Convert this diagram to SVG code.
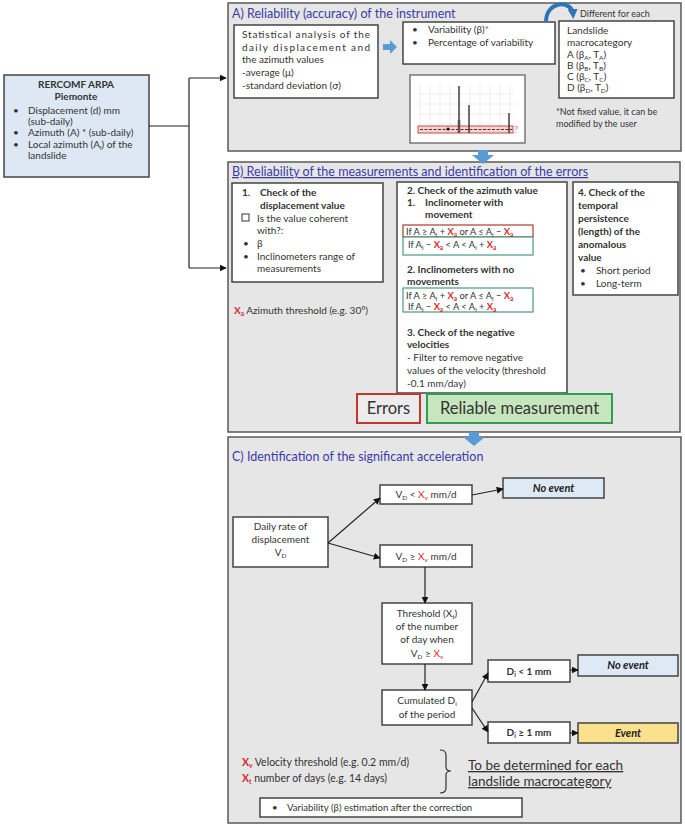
<svg xmlns="http://www.w3.org/2000/svg" width="685" height="826" viewBox="0 0 685 826">
<defs>
<marker id="ah" viewBox="0 0 10 10" refX="9" refY="5" markerWidth="7" markerHeight="7" orient="auto" markerUnits="userSpaceOnUse"><path d="M0,0 L10,5 L0,10 z" fill="#111"/></marker>
<marker id="bh" viewBox="0 0 10 10" refX="5" refY="5" markerWidth="10" markerHeight="10" orient="auto" markerUnits="userSpaceOnUse"><path d="M0,0 L10,5 L0,10 z" fill="#2e75b6"/></marker>
<style>
text{font-family:Lato,"Open Sans","Liberation Sans",sans-serif;fill:#333;font-size:10px}
.sec{fill:#e7e6e6;stroke:#5a5a5a;stroke-width:1.5}
.box{fill:#fff;stroke:#444;stroke-width:1.5}
.ttl{fill:#3b3ba8;font-size:12.5px}
.b{font-weight:bold}
.r{fill:#d42a2a;font-weight:bold}
.s{font-size:6.5px}
.f{font-size:9.3px}
.n9{font-size:9px}
.big{font-size:16.5px;fill:#333}
.und{font-size:13.5px;text-decoration:underline}
.sm{font-size:9.6px}
.con{stroke:#222;stroke-width:1.2;fill:none}
.blue{fill:#5b9bd5}
.bi{font-weight:bold;font-style:italic;font-size:11px;fill:#222}
</style>
</defs>

<g id="sectionA">
<rect class="sec" x="228" y="3" width="453" height="148"/>
<text class="ttl" x="232" y="18">A) Reliability (accuracy) of the instrument</text>
</g>
<g id="sectionB">
<rect class="sec" x="228" y="162" width="452" height="270"/>
<text class="ttl" x="232" y="176" text-decoration="underline">B) Reliability of the measurements and identification of the errors</text>
</g>
<g id="sectionC">
<rect class="sec" x="228" y="437" width="453" height="386"/>
<text class="ttl" x="232" y="461">C) Identification of the significant acceleration</text>
</g>

<g id="source">
<rect x="4" y="75" width="145" height="102" fill="#dde8f4" stroke="#444" stroke-width="1.5"/>
<text class="b" x="76" y="88" text-anchor="middle">RERCOMF ARPA</text>
<text class="b" x="76" y="100" text-anchor="middle">Piemonte</text>
<text x="13" y="114">•</text><text x="28" y="114">Displacement (d) mm</text>
<text x="28" y="125">(sub-daily)</text>
<text x="13" y="136">•</text><text x="28" y="136">Azimuth (A) * (sub-daily)</text>
<text x="13" y="148">•</text><text x="28" y="148">Local azimuth (A<tspan class="s" dy="2">l</tspan><tspan dy="-2">) of the</tspan></text>
<text x="28" y="159">landslide</text>
</g>

<g id="statAnalysis">
<rect class="box" x="234" y="25" width="144" height="73"/>
<text x="242" y="38" textLength="128">Statistical analysis of the</text>
<text x="242" y="51" textLength="128">daily displacement and</text>
<text x="242" y="63">the azimuth values</text>
<text x="242" y="76">-average (μ)</text>
<text x="242" y="89">-standard deviation (σ)</text>
</g>
<g id="arrowA">
<path class="blue" d="M383,44 h7 v-4 l7,7 l-7,7 v-4 h-7 z"/>
</g>
<g id="variability">
<rect class="box" x="403" y="22" width="152" height="42"/>
<text x="412" y="33">•</text><text x="428" y="33">Variability (β)<tspan style="fill:#d42a2a">*</tspan></text>
<text x="412" y="46">•</text><text x="428" y="46">Percentage of variability</text>
</g>
<g id="macrocategory">
<rect class="box" x="559" y="21" width="115" height="77"/>
<text x="567" y="34">Landslide</text>
<text x="567" y="46">macrocategory</text>
<text x="567" y="58">A (β<tspan class="s" dy="2">A</tspan><tspan dy="-2">, T</tspan><tspan class="s" dy="2">A</tspan><tspan dy="-2">)</tspan></text>
<text x="567" y="69">B (β<tspan class="s" dy="2">B</tspan><tspan dy="-2">, T</tspan><tspan class="s" dy="2">B</tspan><tspan dy="-2">)</tspan></text>
<text x="567" y="80">C (β<tspan class="s" dy="2">C</tspan><tspan dy="-2">, T</tspan><tspan class="s" dy="2">C</tspan><tspan dy="-2">)</tspan></text>
<text x="567" y="91">D (β<tspan class="s" dy="2">D</tspan><tspan dy="-2">, T</tspan><tspan class="s" dy="2">D</tspan><tspan dy="-2">)</tspan></text>
</g>
<g id="differentNote">
<path d="M546,22 C546,0 572,0 573,14" fill="none" stroke="#2e75b6" stroke-width="4" marker-end="url(#bh)"/>
<text class="n9" x="580" y="17">Different for each</text>
<text class="n9" x="556" y="115">*Not fixed value, it can be</text>
<text class="n9" x="556" y="127">modified by the user</text>
</g>
<g id="chart">
<rect x="410" y="75" width="115" height="68" fill="#fff" stroke="#777" stroke-width="1.5"/>
<g stroke="#e4e4e4" stroke-width="0.6">
<path d="M420,84v50M430,84v50M440,84v50M450,84v50M460,84v50M470,84v50M480,84v50M490,84v50M500,84v50M510,84v50"/>
<path d="M418,94h96M418,104h96M418,114h96M418,124h96"/>
</g>
<rect x="418" y="126" width="95" height="7" fill="#f2d4d4" stroke="#c0504d" stroke-width="1"/>
<path d="M420,129.5h92" stroke="#7a2020" stroke-width="1.2" stroke-dasharray="3,1.5"/>
<path d="M459,86v47M469,105v28M509,113v20" stroke="#333" stroke-width="1.4"/>
<path d="M459,120v13" stroke="#555" stroke-width="2.5"/>
<circle cx="448" cy="129" r="1.6" fill="#111"/>
<text class="n9" x="514" y="133" style="fill:#d08080">?</text>
</g>
<g id="arrowAB">
<path class="blue" d="M478,150 h10 v5 h6 l-11,9 l-11,-9 h6 z"/>
</g>

<g id="check1">
<rect class="box" x="232" y="183" width="151" height="99"/>
<text class="b" x="242" y="196">1.</text><text class="b" x="260" y="196">Check of the</text>
<text class="b" x="260" y="209">displacement value</text>
<rect x="242" y="214" width="7" height="7" fill="none" stroke="#333" stroke-width="1"/>
<text x="257" y="222">Is the value coherent</text>
<text x="257" y="234">with?:</text>
<text x="243" y="247">•</text><text x="257" y="247">β</text>
<text x="243" y="260">•</text><text x="257" y="260">Inclinometers range of</text>
<text x="257" y="272">measurements</text>
</g>
<g id="azThreshold">
<text x="234" y="314"><tspan class="r">X</tspan><tspan class="s r" dy="2">a</tspan><tspan dy="-2"> Azimuth threshold (e.g. 30°)</tspan></text>
</g>

<g id="check2">
<rect class="box" x="397" y="182" width="170" height="211"/>
<text class="b" x="407" y="194">2. Check of the azimuth value</text>
<text class="b" x="407" y="206">1.</text><text class="b" x="425" y="206">Inclinometer with</text>
<text class="b" x="425" y="218">movement</text>
<rect x="403" y="225" width="130" height="12" fill="#fff" stroke="#b03a2e" stroke-width="1.2"/>
<rect x="403" y="237" width="130" height="18" fill="#fff" stroke="#4a9a86" stroke-width="1.2"/>
<text class="f" x="406" y="235">If A ≥ A<tspan class="s" dy="2">l</tspan><tspan dy="-2"> + </tspan><tspan class="r">X</tspan><tspan class="s r" dy="2">a</tspan><tspan dy="-2">  or A ≤ A</tspan><tspan class="s" dy="2">l</tspan><tspan dy="-2"> − </tspan><tspan class="r">X</tspan><tspan class="s r" dy="2">a</tspan></text>
<text class="f" x="408" y="248">If A<tspan class="s" dy="2">l</tspan><tspan dy="-2"> − </tspan><tspan class="r">X</tspan><tspan class="s r" dy="2">a</tspan><tspan dy="-2"> &lt; A &lt; A</tspan><tspan class="s" dy="2">l</tspan><tspan dy="-2"> + </tspan><tspan class="r">X</tspan><tspan class="s r" dy="2">a</tspan></text>
<text class="b" x="407" y="273">2. Inclinometers with no</text>
<text class="b" x="407" y="285">movements</text>
<rect x="403" y="288" width="130" height="24" fill="#fff" stroke="#4a9a86" stroke-width="1.2"/>
<text class="f" x="406" y="299">If A ≥ A<tspan class="s" dy="2">l</tspan><tspan dy="-2"> + </tspan><tspan class="r">X</tspan><tspan class="s r" dy="2">a</tspan><tspan dy="-2">  or A ≤ A</tspan><tspan class="s" dy="2">l</tspan><tspan dy="-2"> − </tspan><tspan class="r">X</tspan><tspan class="s r" dy="2">a</tspan></text>
<text class="f" x="408" y="310">If A<tspan class="s" dy="2">l</tspan><tspan dy="-2"> − </tspan><tspan class="r">X</tspan><tspan class="s r" dy="2">a</tspan><tspan dy="-2"> &lt; A &lt; A</tspan><tspan class="s" dy="2">l</tspan><tspan dy="-2"> + </tspan><tspan class="r">X</tspan><tspan class="s r" dy="2">a</tspan></text>
<text class="b" x="407" y="336">3. Check of the negative</text>
<text class="b" x="407" y="348">velocities</text>
<text x="407" y="361">- Filter to remove negative</text>
<text x="407" y="374">values of the velocity (threshold</text>
<text x="407" y="387">-0.1 mm/day)</text>
</g>

<g id="check4">
<rect class="box" x="573" y="182" width="105" height="113"/>
<text class="b" x="578" y="196">4. Check of the</text>
<text class="b" x="578" y="209">temporal</text>
<text class="b" x="578" y="222">persistence</text>
<text class="b" x="578" y="235">(length) of the</text>
<text class="b" x="578" y="248">anomalous</text>
<text class="b" x="578" y="261">value</text>
<text x="580" y="274">•</text><text x="596" y="274">Short period</text>
<text x="580" y="287">•</text><text x="596" y="287">Long-term</text>
</g>

<g id="errors">
<rect x="357" y="394" width="63" height="29" fill="#ececec" stroke="#c0392b" stroke-width="2"/>
<text class="big" x="388.5" y="414" text-anchor="middle">Errors</text>
</g>
<g id="reliable">
<rect x="427" y="394" width="185" height="29" fill="#c8e6bd" stroke="#2f9e50" stroke-width="2"/>
<text class="big" x="519.5" y="414" text-anchor="middle">Reliable measurement</text>
</g>
<g id="arrowBC">
<path class="blue" d="M469,432 h10 v5 h6 l-11,9 l-11,-9 h6 z"/>
</g>

<g id="dailyRate">
<rect class="box" x="233" y="517" width="95" height="50"/>
<text x="280.5" y="530" text-anchor="middle">Daily rate of</text>
<text x="280.5" y="543" text-anchor="middle">displacement</text>
<text x="280.5" y="556" text-anchor="middle">V<tspan class="s" dy="2">D</tspan></text>
</g>
<g id="vdLess">
<rect class="box" x="380" y="485" width="92" height="19"/>
<text x="426" y="498" text-anchor="middle">V<tspan class="s" dy="2">D</tspan><tspan dy="-2"> &lt; </tspan><tspan style="fill:#d42a2a">X</tspan><tspan class="s" style="fill:#d42a2a" dy="2">v</tspan><tspan dy="-2"> mm/d</tspan></text>
</g>
<g id="noEvent1">
<rect x="503" y="478" width="101" height="20" fill="#dde9f5" stroke="#444" stroke-width="1.5"/>
<text class="bi" x="553.5" y="492" text-anchor="middle">No event</text>
</g>
<g id="vdGreater">
<rect class="box" x="380" y="545" width="92" height="22"/>
<text x="426" y="560" text-anchor="middle">V<tspan class="s" dy="2">D</tspan><tspan dy="-2"> ≥ </tspan><tspan style="fill:#d42a2a">X</tspan><tspan class="s" style="fill:#d42a2a" dy="2">v</tspan><tspan dy="-2"> mm/d</tspan></text>
</g>
<g id="thresholdDays">
<rect class="box" x="382" y="603" width="90" height="61"/>
<text x="427" y="617" text-anchor="middle">Threshold (X<tspan class="s" dy="2">t</tspan><tspan dy="-2">)</tspan></text>
<text x="427" y="630" text-anchor="middle">of the number</text>
<text x="427" y="643" text-anchor="middle">of day when</text>
<text x="427" y="657" text-anchor="middle">V<tspan class="s" dy="2">D</tspan><tspan dy="-2"> ≥ </tspan><tspan style="fill:#d42a2a">X</tspan><tspan class="s" style="fill:#d42a2a" dy="2">v</tspan></text>
</g>
<g id="cumulated">
<rect class="box" x="382" y="690" width="90" height="35"/>
<text x="427" y="704" text-anchor="middle">Cumulated D<tspan class="s" dy="2">i</tspan></text>
<text x="427" y="718" text-anchor="middle">of the period</text>
</g>
<g id="diLess">
<rect class="box" x="488" y="660" width="82" height="22"/>
<text class="b" x="529" y="675" text-anchor="middle">D<tspan class="s" dy="2">i</tspan><tspan dy="-2"> &lt; 1 mm</tspan></text>
</g>
<g id="noEvent2">
<rect x="578" y="655" width="100" height="21" fill="#dde9f5" stroke="#444" stroke-width="1.5"/>
<text class="bi" x="628" y="669" text-anchor="middle">No event</text>
</g>
<g id="diGreater">
<rect class="box" x="488" y="722" width="82" height="21"/>
<text class="b" x="529" y="736" text-anchor="middle">D<tspan class="s" dy="2">i</tspan><tspan dy="-2"> ≥ 1 mm</tspan></text>
</g>
<g id="event">
<rect x="578" y="723" width="100" height="20" fill="#fbe08e" stroke="#444" stroke-width="1.5"/>
<text class="bi" x="628" y="737" text-anchor="middle">Event</text>
</g>

<g id="legend">
<text x="242" y="766" style="font-size:10.5px"><tspan class="r">X</tspan><tspan class="s r" dy="2">v</tspan><tspan dy="-2"> Velocity threshold (e.g. 0.2 mm/d)</tspan></text>
<text x="242" y="782" style="font-size:10.5px"><tspan class="r">X</tspan><tspan class="s r" dy="2">t</tspan><tspan dy="-2"> number of days (e.g. 14 days)</tspan></text>
<path d="M440,750 q6,0 6,5 v12 q0,4 5,4 q-5,0 -5,4 v13 q0,5 -6,5" fill="none" stroke="#333" stroke-width="1.2"/>
<text class="und" x="468" y="770">To be determined for each</text>
<text class="und" x="468" y="786">landslide macrocategory</text>
</g>
<g id="variabilityAfter">
<rect class="box" x="260" y="798" width="262" height="19"/>
<text class="sm" x="272" y="811">•</text>
<text class="sm" x="287" y="811">Variability (β) estimation after the correction</text>
</g>

<g id="connectors">
<path class="con" d="M149,126 H189"/>
<path class="con" d="M189,78 V268"/>
<path class="con" d="M189,78 H226" marker-end="url(#ah)"/>
<path class="con" d="M189,268 H226" marker-end="url(#ah)"/>
<path class="con" d="M328,543 L380,498" marker-end="url(#ah)"/>
<path class="con" d="M328,543 L380,558" marker-end="url(#ah)"/>
<path class="con" d="M472,495 L503,489" marker-end="url(#ah)"/>
<path class="con" d="M425,567 V603" marker-end="url(#ah)"/>
<path class="con" d="M425,664 V690" marker-end="url(#ah)"/>
<path class="con" d="M472,702 L488,673" marker-end="url(#ah)"/>
<path class="con" d="M472,708 L488,732" marker-end="url(#ah)"/>
<path class="con" d="M570,670 H578" marker-end="url(#ah)"/>
<path class="con" d="M570,733 H578" marker-end="url(#ah)"/>
</g>
</svg>
